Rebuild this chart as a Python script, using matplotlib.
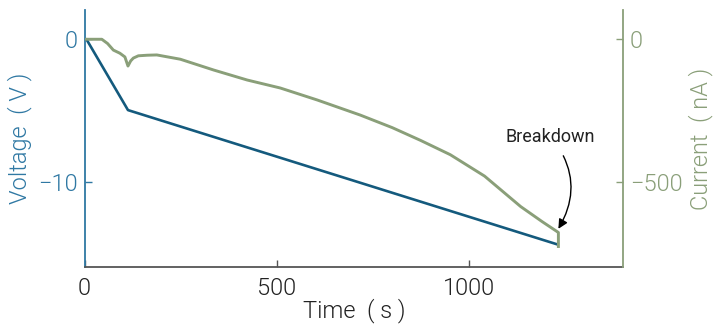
import matplotlib
matplotlib.use("Agg")
import matplotlib.pyplot as plt

# Data
volt_t = [0, 5, 113, 1230]
volt_v = [0, 0, -4.97, -14.4]

cur_t = [0, 45, 60, 75, 92, 105, 113, 120, 127, 140, 163, 188, 249, 336, 423, 509,
         605, 717, 800, 874, 951, 1040, 1134, 1190, 1230, 1232, 1232]
cur_i = [0, 0, -15, -38, -49, -62, -94, -76, -66, -58, -56, -55, -70, -108, -143, -171,
         -213, -266, -310, -355, -405, -480, -587, -640, -676, -678, -727]

xticks = [0, 500, 1000]
vticks = [0, -10]
iticks = [0, -500]

BLUE = "#145a7d"
BLUE_AX = "#2f78a3"
GREEN = "#8a9f79"
GRAY = "#555555"

fam = ["Roboto", "DejaVu Sans"]
plt.rcParams["font.family"] = fam
plt.rcParams["font.weight"] = 300
plt.rcParams["axes.labelweight"] = 300

fig = plt.figure(figsize=(7.18, 3.24), dpi=100)
ax = fig.add_axes([0.1177, 0.175, 0.75, 0.794])
ax2 = ax.twinx()

ax.plot(volt_t, volt_v, color=BLUE, lw=1.9, zorder=3)
ax2.plot(cur_t, cur_i, color=GREEN, lw=2.1, zorder=3)

ax.set_xlim(0, 1400)
ax.set_ylim(-16, 2.05)
ax2.set_ylim(-800, 102.5)

ax.set_xticks(xticks)
ax.set_yticks(vticks)
ax2.set_yticks(iticks)

for a in (ax, ax2):
    a.spines["top"].set_visible(False)
ax.spines["right"].set_visible(False)
ax2.spines["left"].set_visible(False)
ax2.spines["bottom"].set_visible(False)
ax.spines["left"].set_color(BLUE_AX)
ax.spines["bottom"].set_color(GRAY)
ax2.spines["right"].set_color(GREEN)
for s in ax.spines.values():
    s.set_linewidth(1.3)
for s in ax2.spines.values():
    s.set_linewidth(1.3)

FS = 17
ax.tick_params(axis="x", direction="in", length=5, width=1, colors=GRAY,
               labelcolor="#222222", labelsize=FS, pad=7)
ax.tick_params(axis="y", direction="in", length=5, width=1, colors=BLUE_AX,
               labelcolor=BLUE_AX, labelsize=FS, pad=5)
ax2.tick_params(axis="y", direction="in", length=5, width=1, colors=GREEN,
                labelcolor=GREEN, labelsize=FS, pad=5)

ax.set_xticklabels([str(v) for v in xticks])
ax.set_yticklabels(["0", "\u221210"])
ax2.set_yticklabels(["0", "\u2212500"])

ax.set_xlabel("Time  ( s )", fontsize=FS, color="#222222", labelpad=-1)
ax.set_ylabel("Voltage  ( V )", fontsize=FS, color=BLUE_AX, labelpad=4)
ax2.set_ylabel("Current  ( nA )", fontsize=FS, color=GREEN, labelpad=4)

ax2.annotate("Breakdown", xy=(1232, -665), xytext=(1212, -342),
             ha="center", va="center", fontsize=13, fontweight="normal",
             color="#222222",
             arrowprops=dict(arrowstyle="-|>", color="black", lw=1,
                             connectionstyle="arc3,rad=-0.35",
                             shrinkA=6, shrinkB=0, mutation_scale=14))

fig.savefig("out.png", dpi=100)
